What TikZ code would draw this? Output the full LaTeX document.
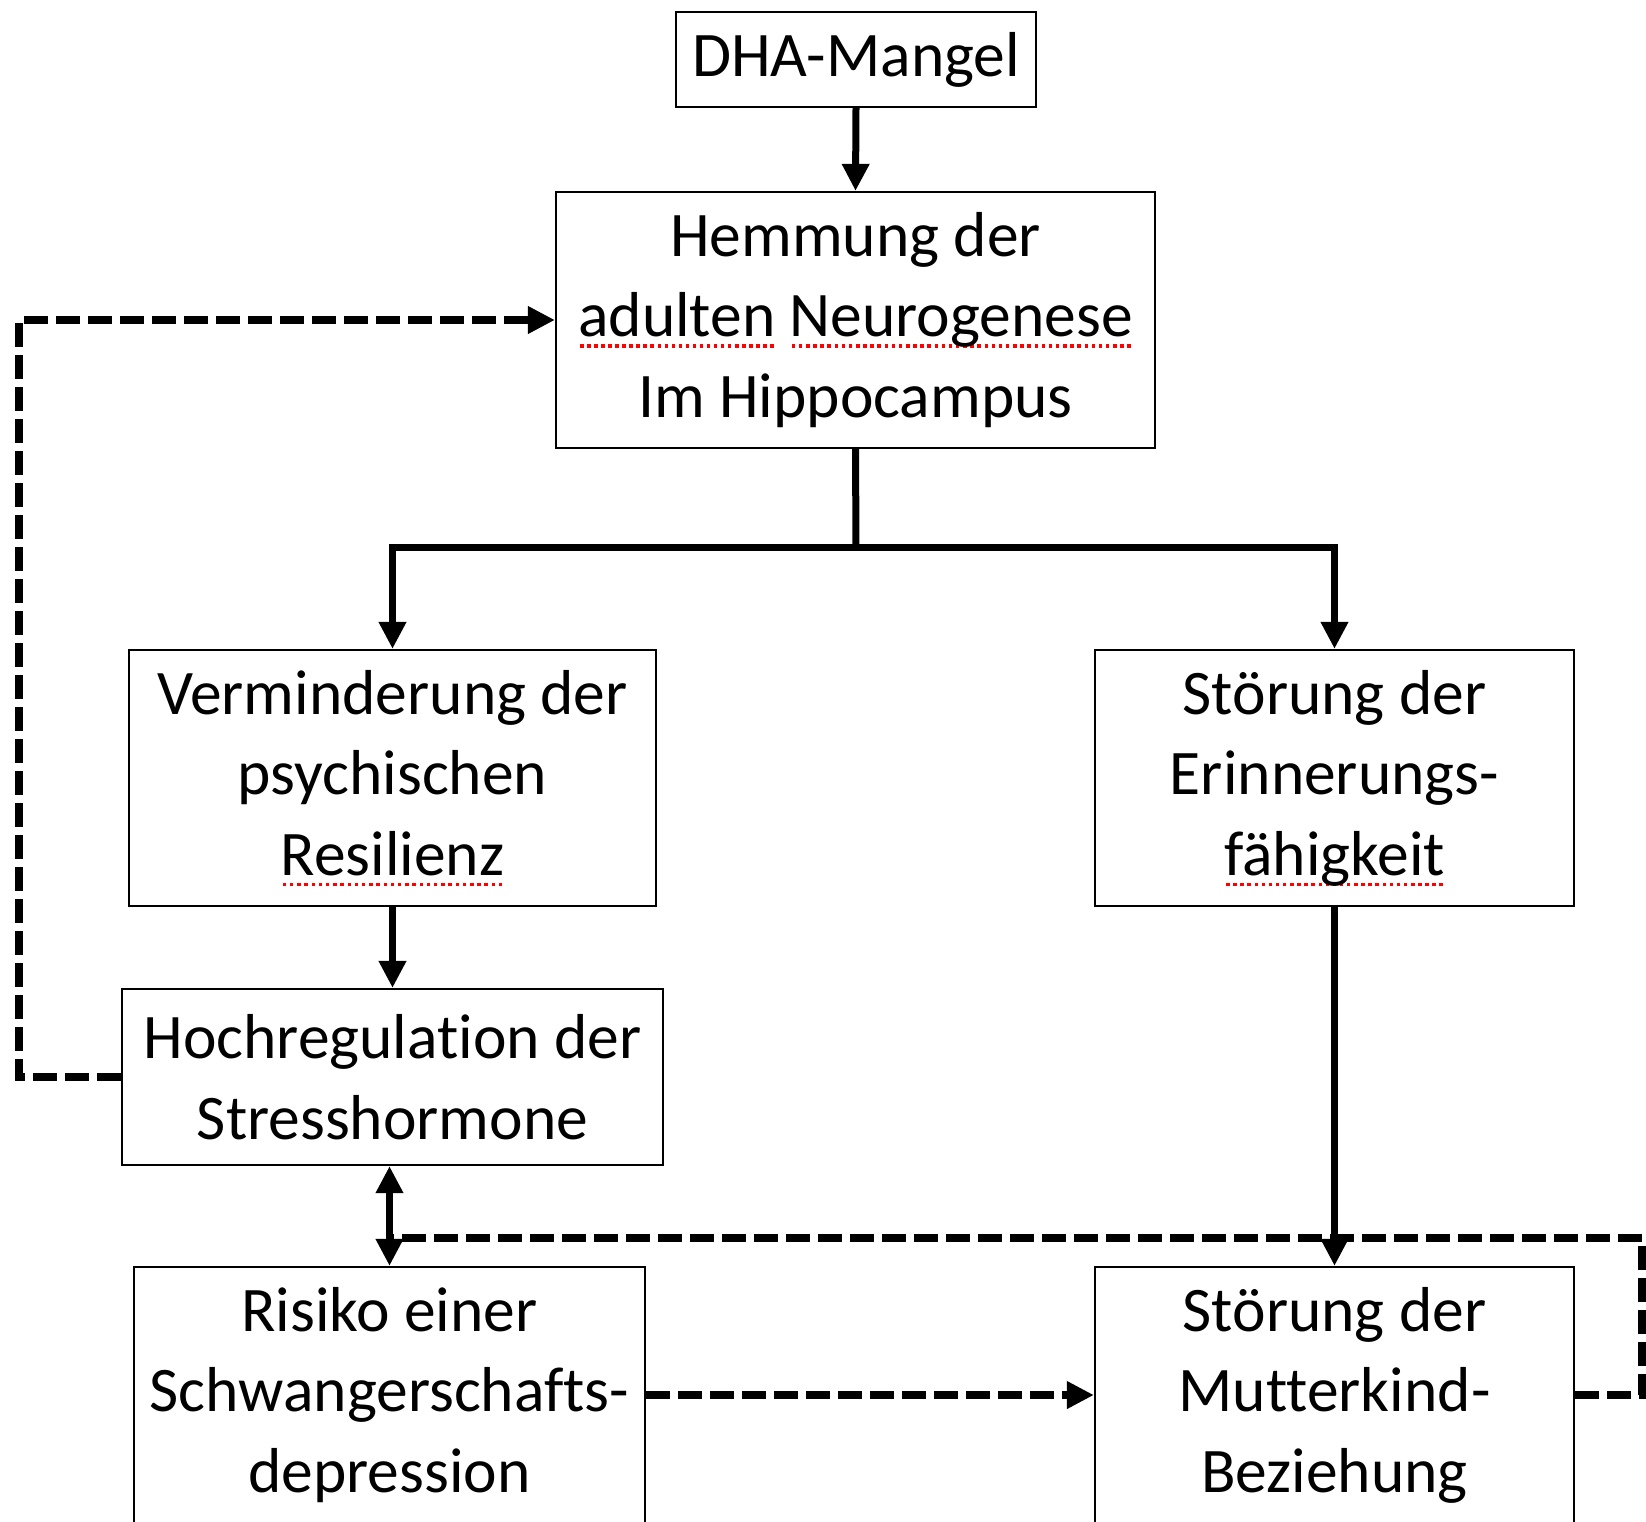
\documentclass[tikz,border=0pt]{standalone}
\usepackage{fontspec}
\setmainfont{Carlito}[Ligatures={NoCommon}]
\usetikzlibrary{arrows.meta}

% red dotted spell-check mark under a word
\newcommand\spellmark[1]{\sbox0{#1}\rlap{\raisebox{-11pt}{\textcolor{red}{\xleaders\hbox to 7pt{\hss\rule{3.5pt}{3.5pt}\hss}\hskip\wd0}}}\usebox0}

\begin{document}
\begin{tikzpicture}[x=1pt,y=-1pt,
  box/.style={draw, line width=2.2pt, inner sep=0pt, align=center,
    font=\fontsize{63.5}{80.5}\selectfont},
  tip/.style={-{Triangle[length=27pt,width=26pt]}},
  flow/.style={line width=7pt, line join=miter},
  fb/.style={line width=8pt, line join=miter, dash pattern=on 24pt off 8pt}]
\useasboundingbox (0,0) rectangle (1646,1521);

\node[box, minimum width=360pt, minimum height=95pt] (dha) at (856,59.5) {DHA-Mangel};
\node[box, minimum width=599pt, minimum height=256pt] (hemm) at (855.5,320)
  {Hemmung der\\\spellmark{adulten} \spellmark{Neurogenese}\\Im Hippocampus};
\node[box, minimum width=527pt, minimum height=256pt] (verm) at (392.5,778)
  {Verminderung der\\psychischen\\\spellmark{Resilienz}};
\node[box, minimum width=479pt, minimum height=256pt] (erin) at (1334.5,778)
  {Störung der\\Erinnerungs-\\\spellmark{fähigkeit}};
\node[box, minimum width=541pt, minimum height=176pt] (hoch) at (392.5,1077)
  {Hochregulation der\\Stresshormone};
\node[box, minimum width=511pt, minimum height=256pt] (risk) at (389.5,1395)
  {Risiko einer\\Schwangerschafts-\\depression};
\node[box, minimum width=479pt, minimum height=256pt] (mut) at (1334.5,1395)
  {Störung der\\Mutterkind-\\Beziehung};

% solid cause chain
\draw[flow, tip] (dha.south) -- (hemm.north);
\coordinate (split) at (856,547);
\draw[flow] (hemm.south) -- (split);
\draw[flow, tip] (split) -| (verm.north);
\draw[flow, tip] (split) -| (erin.north);
\draw[flow, tip] (verm.south) -- (hoch.north);
\draw[flow, tip] (erin.south) -- (mut.north);
\draw[flow, {Triangle[length=27pt,width=26pt]}-{Triangle[length=27pt,width=26pt]}]
  (risk.north |- hoch.south) -- (risk.north);

% dashed feedback loops
\coordinate (lx) at (19,0);
\draw[fb, tip] (hoch.west) -- (hoch.west -| lx) -- (lx |- hemm.west) -- (hemm.west);
\draw[fb, tip] (risk.east) -- (mut.west);
\coordinate (rtop) at (1642,1238);
\coordinate (join) at (risk.north |- rtop);
\draw[fb] (mut.east) -- (mut.east -| rtop) -- (rtop) -- (join);
\end{tikzpicture}
\end{document}
